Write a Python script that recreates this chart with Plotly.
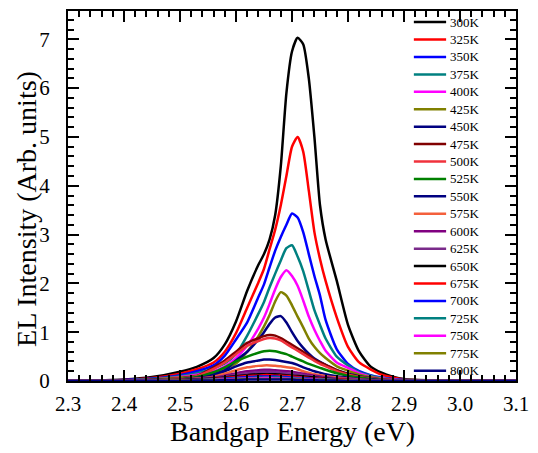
import plotly.graph_objects as go

energy = [2.30, 2.40, 2.45, 2.50, 2.53, 2.56, 2.58, 2.60, 2.62, 2.64, 2.65, 2.66, 2.67, 2.68, 2.69,
          2.70, 2.71, 2.72, 2.73, 2.74, 2.75, 2.76, 2.78, 2.80, 2.82, 2.84, 2.86, 2.88, 2.90, 2.95, 3.10]

temps = ["300K", "325K", "350K", "375K", "400K", "425K", "450K", "475K", "500K", "525K", "550K",
         "575K", "600K", "625K", "650K", "675K", "700K", "725K", "750K", "775K", "800K"]

colors = ["#000000", "#ff0000", "#0000ff", "#008080", "#ff00ff", "#808000", "#000080", "#800000",
          "#f0323c", "#008000", "#000080", "#f4603c", "#800080", "#7a2a8a", "#000000", "#ff0000",
          "#0000ff", "#008080", "#ff00ff", "#808000", "#000080"]

i300 = [0, 0.03, 0.08, 0.19, 0.29, 0.47, 0.75, 1.22, 1.85, 2.38, 2.6, 2.9, 3.4, 4.4, 5.9,
        6.75, 7.03, 6.9, 6.2, 5.0, 3.6, 2.9, 2.05, 1.15, 0.6, 0.3, 0.17, 0.09, 0.04, 0.01, 0]
i325 = [0, 0.02, 0.06, 0.15, 0.24, 0.38, 0.6, 0.98, 1.5, 2.02, 2.3, 2.7, 3.1, 3.6, 4.2,
        4.8, 5.0, 4.7, 3.9, 3.05, 2.5, 2.05, 1.3, 0.7, 0.38, 0.24, 0.13, 0.07, 0.03, 0.01, 0]
i350 = [0, 0.02, 0.05, 0.12, 0.2, 0.32, 0.52, 0.85, 1.2, 1.72, 1.98, 2.33, 2.67, 2.95, 3.2,
        3.43, 3.35, 3.05, 2.6, 2.15, 1.75, 1.25, 0.65, 0.35, 0.2, 0.12, 0.07, 0.04, 0.02, 0, 0]
i375 = [0, 0.01, 0.04, 0.1, 0.16, 0.26, 0.36, 0.55, 0.93, 1.38, 1.62, 1.92, 2.2, 2.47, 2.72,
        2.78, 2.55, 2.25, 1.85, 1.45, 1.15, 0.87, 0.5, 0.32, 0.18, 0.11, 0.06, 0.03, 0.02, 0, 0]
i400 = [0, 0.01, 0.03, 0.08, 0.13, 0.2, 0.3, 0.47, 0.72, 1.08, 1.3, 1.58, 1.88, 2.13, 2.27,
        2.15, 1.95, 1.65, 1.32, 1.05, 0.82, 0.62, 0.38, 0.27, 0.16, 0.09, 0.05, 0.03, 0.01, 0, 0]
i425 = [0, 0.01, 0.03, 0.07, 0.11, 0.17, 0.25, 0.36, 0.6, 0.92, 1.12, 1.35, 1.63, 1.82, 1.75,
        1.55, 1.32, 1.1, 0.87, 0.7, 0.57, 0.47, 0.3, 0.21, 0.13, 0.08, 0.04, 0.02, 0.01, 0, 0]
i450 = [0, 0.01, 0.02, 0.05, 0.09, 0.15, 0.22, 0.42, 0.6, 0.85, 1.0, 1.17, 1.3, 1.33, 1.2,
        1.0, 0.82, 0.68, 0.56, 0.46, 0.39, 0.33, 0.22, 0.15, 0.1, 0.06, 0.03, 0.02, 0.01, 0, 0]
i475 = [0, 0.01, 0.02, 0.05, 0.1, 0.28, 0.42, 0.6, 0.78, 0.88, 0.92, 0.94, 0.93, 0.88, 0.81,
        0.74, 0.67, 0.6, 0.52, 0.44, 0.38, 0.33, 0.22, 0.14, 0.09, 0.05, 0.03, 0.02, 0.01, 0, 0]
i500 = [0, 0.01, 0.02, 0.05, 0.1, 0.25, 0.38, 0.55, 0.72, 0.82, 0.86, 0.88, 0.87, 0.83, 0.76,
        0.69, 0.62, 0.55, 0.48, 0.41, 0.35, 0.3, 0.2, 0.13, 0.08, 0.05, 0.03, 0.02, 0.01, 0, 0]
i525 = [0, 0.01, 0.02, 0.04, 0.08, 0.18, 0.28, 0.4, 0.5, 0.58, 0.61, 0.62, 0.61, 0.58, 0.55,
        0.5, 0.45, 0.4, 0.35, 0.31, 0.27, 0.23, 0.16, 0.11, 0.07, 0.04, 0.02, 0.01, 0.01, 0, 0]
i550 = [0, 0.01, 0.02, 0.03, 0.06, 0.12, 0.2, 0.3, 0.38, 0.42, 0.44, 0.44, 0.43, 0.41, 0.39,
        0.37, 0.33, 0.28, 0.24, 0.2, 0.17, 0.14, 0.1, 0.07, 0.04, 0.03, 0.02, 0.01, 0, 0, 0]
i575 = [0, 0.01, 0.01, 0.03, 0.05, 0.09, 0.15, 0.22, 0.28, 0.31, 0.32, 0.32, 0.31, 0.3, 0.28,
        0.27, 0.24, 0.2, 0.17, 0.14, 0.12, 0.1, 0.07, 0.05, 0.03, 0.02, 0.01, 0.01, 0, 0, 0]
i600 = [0, 0.01, 0.01, 0.02, 0.04, 0.07, 0.11, 0.16, 0.2, 0.22, 0.23, 0.23, 0.22, 0.21, 0.2,
        0.19, 0.17, 0.15, 0.13, 0.11, 0.09, 0.08, 0.05, 0.04, 0.02, 0.01, 0.01, 0, 0, 0, 0]
i625 = [0, 0.01, 0.01, 0.02, 0.03, 0.06, 0.09, 0.13, 0.16, 0.18, 0.19, 0.19, 0.18, 0.17, 0.16,
        0.15, 0.14, 0.12, 0.1, 0.09, 0.07, 0.06, 0.04, 0.03, 0.02, 0.01, 0.01, 0, 0, 0, 0]
i650 = [0, 0, 0.01, 0.02, 0.03, 0.05, 0.07, 0.1, 0.12, 0.14, 0.14, 0.14, 0.14, 0.13, 0.12,
        0.11, 0.1, 0.09, 0.08, 0.07, 0.06, 0.05, 0.03, 0.02, 0.01, 0.01, 0, 0, 0, 0, 0]
i675 = [0, 0, 0.01, 0.01, 0.02, 0.04, 0.06, 0.08, 0.1, 0.11, 0.12, 0.12, 0.11, 0.11, 0.1,
        0.09, 0.08, 0.07, 0.06, 0.05, 0.05, 0.04, 0.03, 0.02, 0.01, 0.01, 0, 0, 0, 0, 0]
i700 = [0, 0, 0.01, 0.01, 0.02, 0.03, 0.05, 0.06, 0.08, 0.09, 0.09, 0.09, 0.09, 0.08, 0.08,
        0.07, 0.06, 0.06, 0.05, 0.04, 0.04, 0.03, 0.02, 0.01, 0.01, 0, 0, 0, 0, 0, 0]
i725 = [0, 0, 0, 0.01, 0.02, 0.03, 0.04, 0.05, 0.06, 0.07, 0.07, 0.07, 0.07, 0.07, 0.06,
        0.06, 0.05, 0.05, 0.04, 0.03, 0.03, 0.03, 0.02, 0.01, 0.01, 0, 0, 0, 0, 0, 0]
i750 = [0, 0, 0, 0.01, 0.01, 0.02, 0.03, 0.04, 0.05, 0.05, 0.06, 0.06, 0.05, 0.05, 0.05,
        0.04, 0.04, 0.04, 0.03, 0.03, 0.02, 0.02, 0.01, 0.01, 0, 0, 0, 0, 0, 0, 0]
i775 = [0, 0, 0, 0.01, 0.01, 0.02, 0.02, 0.03, 0.04, 0.04, 0.04, 0.04, 0.04, 0.04, 0.04,
        0.03, 0.03, 0.03, 0.02, 0.02, 0.02, 0.02, 0.01, 0.01, 0, 0, 0, 0, 0, 0, 0]
i800 = [0, 0, 0, 0, 0.01, 0.01, 0.02, 0.02, 0.03, 0.03, 0.03, 0.03, 0.03, 0.03, 0.03,
        0.03, 0.02, 0.02, 0.02, 0.02, 0.01, 0.01, 0.01, 0, 0, 0, 0, 0, 0, 0, 0]

series = [i300, i325, i350, i375, i400, i425, i450, i475, i500, i525, i550,
          i575, i600, i625, i650, i675, i700, i725, i750, i775, i800]

x_title = "Bandgap Energy (eV)"
y_title = "EL Intensity (Arb. units)"

font_family = "Liberation Serif, Times New Roman, serif"

fig = go.Figure()
for name, col, vals in zip(temps, colors, series):
    fig.add_trace(go.Scatter(
        x=energy, y=vals, mode="lines", name=name, showlegend=False,
        line=dict(color=col, width=2.5, shape="spline", smoothing=0.6),
    ))

# compact legend (entries spaced like the original), built from temps/colors
leg_x0, leg_x1, leg_tx = 0.772, 0.844, 0.848
leg_top, leg_step = 0.97, 0.0471
shapes, annotations = [], []
for k, (name, col) in enumerate(zip(temps, colors)):
    yy = leg_top - k * leg_step
    shapes.append(dict(type="line", xref="paper", yref="paper",
                       x0=leg_x0, x1=leg_x1, y0=yy, y1=yy,
                       line=dict(color=col, width=2.5)))
    annotations.append(dict(xref="paper", yref="paper", x=leg_tx, y=yy,
                            text=name, showarrow=False, xanchor="left", yanchor="middle",
                            font=dict(family=font_family, size=13, color="black")))

# axis titles
annotations.append(dict(xref="paper", yref="paper", x=0.5, y=-0.137, text=x_title,
                        showarrow=False, xanchor="center", yanchor="middle",
                        font=dict(family=font_family, size=28, color="black")))
annotations.append(dict(xref="paper", yref="paper", x=-0.093, y=0.466, text=y_title,
                        showarrow=False, xanchor="center", yanchor="middle", textangle=-90,
                        font=dict(family=font_family, size=28, color="black")))

axis_common = dict(
    showline=True, linecolor="black", linewidth=2, mirror="allticks",
    ticks="inside", ticklen=11, tickwidth=1.5, tickcolor="black",
    showgrid=False, zeroline=False, ticklabeloverflow="allow",
    tickfont=dict(family=font_family, size=21, color="black"),
)

fig.update_layout(
    width=538, height=453,
    margin=dict(l=68, r=12, t=9, b=72),
    paper_bgcolor="white", plot_bgcolor="white",
    font=dict(family=font_family, color="black"),
    showlegend=False,
    shapes=shapes,
    annotations=annotations,
    xaxis=dict(
        range=[2.3, 3.1], dtick=0.1, tick0=2.3, tickformat=".1f",
        minor=dict(ticks="inside", ticklen=6, tickwidth=1.5, tickcolor="black", dtick=0.02),
        ticklabelstandoff=3,
        **axis_common,
    ),
    yaxis=dict(
        range=[0, 7.58], dtick=1, tick0=0,
        minor=dict(ticks="inside", ticklen=6, tickwidth=1.5, tickcolor="black", dtick=0.2),
        ticklabelstandoff=12,
        **axis_common,
    ),
)

fig.write_html("out.html")
